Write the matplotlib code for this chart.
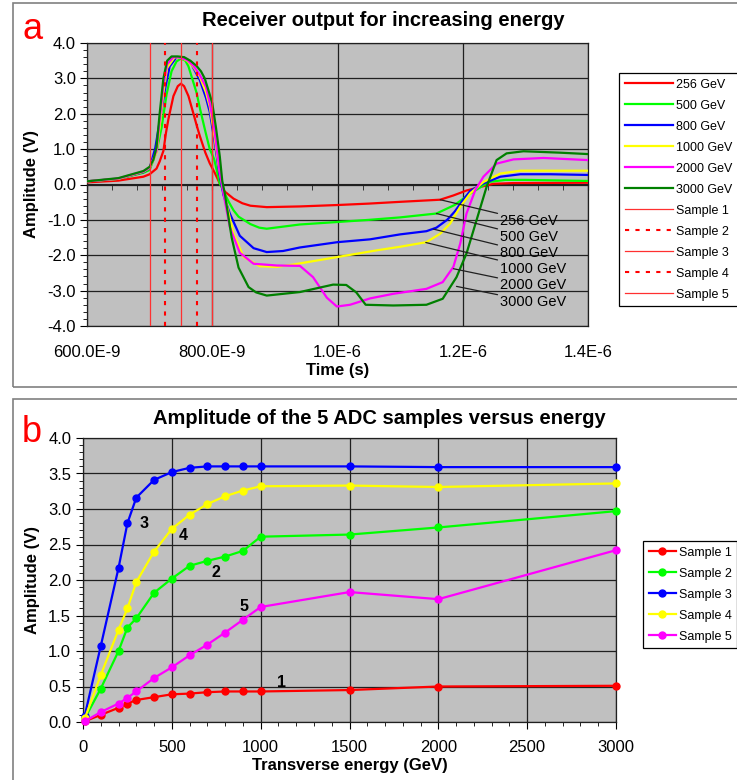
import numpy as np
import matplotlib
matplotlib.use("Agg")
import matplotlib.pyplot as plt
from matplotlib.patches import Rectangle
from matplotlib.ticker import MultipleLocator, FormatStrFormatter

plt.rcParams['font.family'] = ['Liberation Sans', 'DejaVu Sans']

# ---- panel a: receiver output (time in ns, amplitude in V) ----
t_256 = [600, 650, 690, 700, 711, 716, 722, 726, 730, 738, 745, 750, 755, 762, 770, 775, 780, 789, 796,
         804, 812, 820, 834, 848, 861, 887, 940, 1000, 1050, 1100, 1164, 1185, 1206, 1228, 1249, 1280, 1400]
a_256 = [0.06, 0.11, 0.22, 0.29, 0.45, 0.65, 0.95, 1.45, 1.85, 2.5, 2.78, 2.85, 2.78, 2.5, 2.0, 1.68, 1.38, 0.9, 0.6,
         0.33, 0.03, -0.2, -0.4, -0.53, -0.6, -0.64, -0.62, -0.58, -0.54, -0.49, -0.43, -0.31, -0.17, -0.07, 0.02, 0.04, 0.05]

t_500 = [600, 650, 690, 700, 711, 719, 727, 735, 743, 750, 757, 762, 775, 781, 789, 796, 803, 812, 826, 834, 842,
         861, 875, 887, 940, 1000, 1050, 1100, 1158, 1187, 1210, 1228, 1241, 1268, 1300, 1400]
a_500 = [0.09, 0.16, 0.33, 0.41, 0.93, 1.6, 2.54, 3.2, 3.48, 3.56, 3.5, 3.34, 2.59, 2.1, 1.5, 1.0, 0.72, 0.03, -0.48, -0.73, -0.91,
         -1.12, -1.22, -1.25, -1.13, -1.06, -1.0, -0.93, -0.82, -0.58, -0.28, -0.08, 0.07, 0.13, 0.13, 0.10]

t_800 = [600, 650, 690, 700, 709, 717, 725, 732, 743, 756, 767, 780, 790, 796, 803, 810, 818, 828, 844, 866, 887,
         913, 940, 1000, 1052, 1100, 1142, 1158, 1175, 1187, 1200, 1212, 1233, 1260, 1292, 1340, 1400]
a_800 = [0.09, 0.16, 0.35, 0.46, 1.03, 1.88, 2.73, 3.34, 3.6, 3.58, 3.39, 2.96, 2.45, 2.05, 1.3, 0.45, -0.3, -0.82, -1.45, -1.8, -1.91,
         -1.88, -1.78, -1.63, -1.55, -1.41, -1.32, -1.22, -1.0, -0.77, -0.45, -0.18, 0.03, 0.22, 0.29, 0.29, 0.27]

t_1000 = [600, 650, 690, 700, 711, 716, 722, 728, 740, 750, 760, 770, 780, 790, 796, 802, 810, 818, 834, 850, 876,
          903, 930, 1000, 1063, 1100, 1142, 1164, 1180, 1196, 1212, 1233, 1260, 1292, 1400]
a_1000 = [0.09, 0.16, 0.36, 0.47, 0.9, 1.65, 2.6, 3.3, 3.6, 3.58, 3.5, 3.32, 3.05, 2.6, 2.2, 1.55, 0.55, -0.2, -1.39, -2.05, -2.31,
          -2.33, -2.26, -2.05, -1.86, -1.76, -1.63, -1.39, -1.10, -0.63, -0.25, 0.07, 0.31, 0.39, 0.39]

t_2000 = [600, 650, 690, 700, 711, 716, 722, 728, 738, 745, 760, 770, 780, 790, 796, 803, 812, 820, 828, 844, 866,
          903, 940, 961, 983, 999, 1020, 1052, 1089, 1142, 1168, 1185, 1196, 1206, 1220, 1233, 1254, 1281, 1329, 1400]
a_2000 = [0.09, 0.17, 0.37, 0.48, 0.95, 1.8, 2.8, 3.4, 3.6, 3.6, 3.52, 3.35, 3.1, 2.75, 2.3, 1.6, 0.35, -0.45, -1.2, -1.93, -2.24,
          -2.29, -2.3, -2.62, -3.2, -3.45, -3.4, -3.22, -3.09, -2.95, -2.76, -2.33, -1.67, -0.82, -0.16, 0.22, 0.59, 0.71, 0.75, 0.69]

t_3000 = [600, 650, 690, 700, 706, 711, 716, 722, 728, 735, 745, 755, 765, 775, 782, 788, 795, 800, 806, 812, 816, 820,
          831, 842, 858, 870, 887, 940, 993, 1014, 1030, 1045, 1089, 1142, 1168, 1190, 1206, 1222, 1238, 1254, 1270,
          1297, 1355, 1400]
a_3000 = [0.09, 0.18, 0.38, 0.5, 0.7, 1.05, 2.0, 3.0, 3.5, 3.62, 3.62, 3.6, 3.5, 3.35, 3.2, 3.0, 2.6, 2.3, 1.6, 0.8, 0.1, -0.25,
          -1.5, -2.35, -2.9, -3.05, -3.14, -3.04, -2.83, -2.84, -3.05, -3.4, -3.42, -3.40, -3.23, -2.62, -1.95, -1.01, -0.07,
          0.69, 0.88, 0.94, 0.90, 0.86]

energy_labels = ['256 GeV', '500 GeV', '800 GeV', '1000 GeV', '2000 GeV', '3000 GeV']
energy_colors = ['#ff0000', '#00ff00', '#0000ff', '#ffff00', '#ff00ff', '#008000']

# ADC sampling times (ns)
sample_times = [700, 725, 750, 775, 800]
sample_names = ['Sample 1', 'Sample 2', 'Sample 3', 'Sample 4', 'Sample 5']

# callout lines: curve point (t, A) -> label y
callout_t = [1164, 1158, 1153, 1141, 1185, 1190]
callout_a = [-0.43, -0.82, -1.26, -1.64, -2.38, -2.88]
callout_label_y = [-1.03, -1.48, -1.93, -2.38, -2.85, -3.32]

time_ticks = [600, 800, 1000, 1200, 1400]
time_tick_labels = ['600.0E-9', '800.0E-9', '1.0E-6', '1.2E-6', '1.4E-6']

# ---- panel b: ADC sample amplitude vs transverse energy ----
energy = [10, 100, 200, 250, 300, 400, 500, 600, 700, 800, 900, 1000, 1500, 2000, 3000]
s1 = [0.01, 0.10, 0.20, 0.26, 0.31, 0.35, 0.39, 0.40, 0.42, 0.43, 0.43, 0.43, 0.45, 0.50, 0.51]
s2 = [0.05, 0.47, 1.00, 1.33, 1.46, 1.82, 2.02, 2.20, 2.27, 2.33, 2.41, 2.61, 2.64, 2.74, 2.97]
s3 = [0.09, 1.07, 2.17, 2.80, 3.16, 3.41, 3.52, 3.58, 3.60, 3.60, 3.60, 3.60, 3.60, 3.59, 3.59]
s4 = [0.05, 0.66, 1.30, 1.60, 1.97, 2.40, 2.72, 2.92, 3.07, 3.18, 3.26, 3.32, 3.33, 3.31, 3.36]
s5 = [0.01, 0.14, 0.26, 0.34, 0.43, 0.62, 0.77, 0.94, 1.09, 1.26, 1.44, 1.62, 1.83, 1.73, 2.42]
sample_colors = ['#ff0000', '#00ff00', '#0000ff', '#ffff00', '#ff00ff']

curve_tags = ['1', '2', '3', '4', '5']
tag_x = [1115, 750, 345, 565, 905]
tag_y = [0.56, 2.11, 2.80, 2.63, 1.63]

W, H = 737, 780
fig = plt.figure(figsize=(W / 100, H / 100), dpi=100)

def fx(px):
    return px / W

def fy(py):
    return 1 - py / H

grey_bg = '#c0c0c0'
grid_c = '#202020'

# chart frames
fig.add_artist(Rectangle((fx(13), fy(387)), 1.2, fy(3) - fy(387), transform=fig.transFigure,
                         fill=False, edgecolor='#808080', lw=1.2))
fig.add_artist(Rectangle((fx(13), -0.2), 1.2, fy(399) + 0.2, transform=fig.transFigure,
                         fill=False, edgecolor='#808080', lw=1.2))

# ================= panel a =================
ax = fig.add_axes([fx(87), fy(326), fx(588) - fx(87), fy(43) - fy(326)])
ax.set_facecolor(grey_bg)
ax.set_xlim(600, 1400)
ax.set_ylim(-4, 4)
ax.set_xticks(time_ticks, labels=time_tick_labels)
ax.set_yticks(np.arange(-4, 4.01, 1.0))
ax.yaxis.set_major_formatter(FormatStrFormatter('%.1f'))
ax.yaxis.set_minor_locator(MultipleLocator(0.2))
ax.tick_params(axis='x', which='both', length=0, labelsize=12, pad=14)
ax.tick_params(axis='y', which='major', length=5, direction='out', labelsize=12, pad=3)
ax.tick_params(axis='y', which='minor', length=3, direction='out')
ax.grid(True, which='major', color=grid_c, lw=0.9)
ax.set_axisbelow(True)
for s in ax.spines.values():
    s.set_color('#202020')
    s.set_linewidth(0.9)

# zero axis with ticks
sec = ax.secondary_xaxis(0.5)
sec.set_xticks(time_ticks, labels=[''] * len(time_ticks))
sec.xaxis.set_minor_locator(MultipleLocator(40))
sec.tick_params(which='both', direction='in', length=4, color='#202020')
sec.spines['top'].set_color('#202020')

series_a = [(t_256, a_256), (t_500, a_500), (t_800, a_800), (t_1000, a_1000), (t_2000, a_2000), (t_3000, a_3000)]
handles = []
for (tt, aa), lab, col in zip(series_a, energy_labels, energy_colors):
    h, = ax.plot(tt, aa, color=col, lw=1.6, label=lab, zorder=3)
    handles.append(h)

for i, (ts, nm) in enumerate(zip(sample_times, sample_names)):
    if i % 2 == 1:
        h = ax.axvline(ts, color='#ff0000', lw=1.5, ls=(0, (2, 3)), label=nm, zorder=4)
    else:
        h = ax.axvline(ts, color='#ff3030', lw=0.9, label=nm, zorder=4)
    handles.append(h)

for xt, yt, ly, lab in zip(callout_t, callout_a, callout_label_y, energy_labels):
    ax.annotate(lab, xy=(xt, yt), xytext=(1260, ly), fontsize=10.5, va='center', ha='left',
                arrowprops=dict(arrowstyle='-', color='#202020', lw=0.9, shrinkA=0, shrinkB=0), zorder=5)

ax.set_xlabel('Time (s)', fontsize=12, fontweight='bold', labelpad=2)
ax.set_ylabel('Amplitude (V)', fontsize=12, fontweight='bold', labelpad=6)

leg = fig.legend(handles=handles, loc='upper left', bbox_to_anchor=(fx(619), fy(73)),
                 fontsize=9, frameon=True, fancybox=False, edgecolor='black', framealpha=1,
                 handlelength=3.9, handletextpad=0.2, labelspacing=0.72, borderpad=0.45,
                 borderaxespad=0)
leg.get_frame().set_linewidth(0.9)

fig.text(fx(383), fy(20), 'Receiver output for increasing energy', ha='center', va='center',
         fontsize=14.5, fontweight='bold')
fig.text(fx(22), fy(39), 'a', color='red', fontsize=26, ha='left', va='baseline')

# ================= panel b =================
bx = fig.add_axes([fx(83), fy(722), fx(616) - fx(83), fy(438) - fy(722)])
bx.set_facecolor(grey_bg)
bx.set_xlim(0, 3000)
bx.set_ylim(0, 4)
bx.set_xticks(np.arange(0, 3001, 500))
bx.set_yticks(np.arange(0, 4.01, 0.5))
bx.yaxis.set_major_formatter(FormatStrFormatter('%.1f'))
bx.xaxis.set_minor_locator(MultipleLocator(100))
bx.yaxis.set_minor_locator(MultipleLocator(0.1))
bx.tick_params(which='major', length=5, direction='out', labelsize=12)
bx.tick_params(which='minor', length=3, direction='out')
bx.tick_params(axis='x', pad=8)
bx.grid(True, which='major', color=grid_c, lw=0.9)
bx.set_axisbelow(True)
for s in bx.spines.values():
    s.set_color('#202020')
    s.set_linewidth(0.9)

for vals, nm, col in zip([s1, s2, s3, s4, s5], sample_names, sample_colors):
    bx.plot(energy, vals, color=col, lw=1.6, marker='o', ms=5, label=nm, zorder=3, clip_on=False)

for tg, xx, yy in zip(curve_tags, tag_x, tag_y):
    bx.text(xx, yy, tg, fontsize=11.5, fontweight='bold', ha='center', va='center')

bx.set_xlabel('Transverse energy (GeV)', fontsize=12, fontweight='bold', labelpad=2)
bx.set_ylabel('Amplitude (V)', fontsize=12, fontweight='bold', labelpad=6)

legb = fig.legend(*bx.get_legend_handles_labels(), loc='upper left', bbox_to_anchor=(fx(643), fy(541)),
                  fontsize=9, frameon=True, fancybox=False, edgecolor='black', framealpha=1,
                  handlelength=2.2, handletextpad=0.2, labelspacing=0.72, borderpad=0.45,
                  borderaxespad=0)
legb.get_frame().set_linewidth(0.9)

fig.text(fx(379), fy(418), 'Amplitude of the 5 ADC samples versus energy', ha='center', va='center',
         fontsize=14.5, fontweight='bold')
fig.text(fx(22), fy(442), 'b', color='red', fontsize=26, ha='left', va='baseline')

fig.savefig('out.png', dpi=100)
